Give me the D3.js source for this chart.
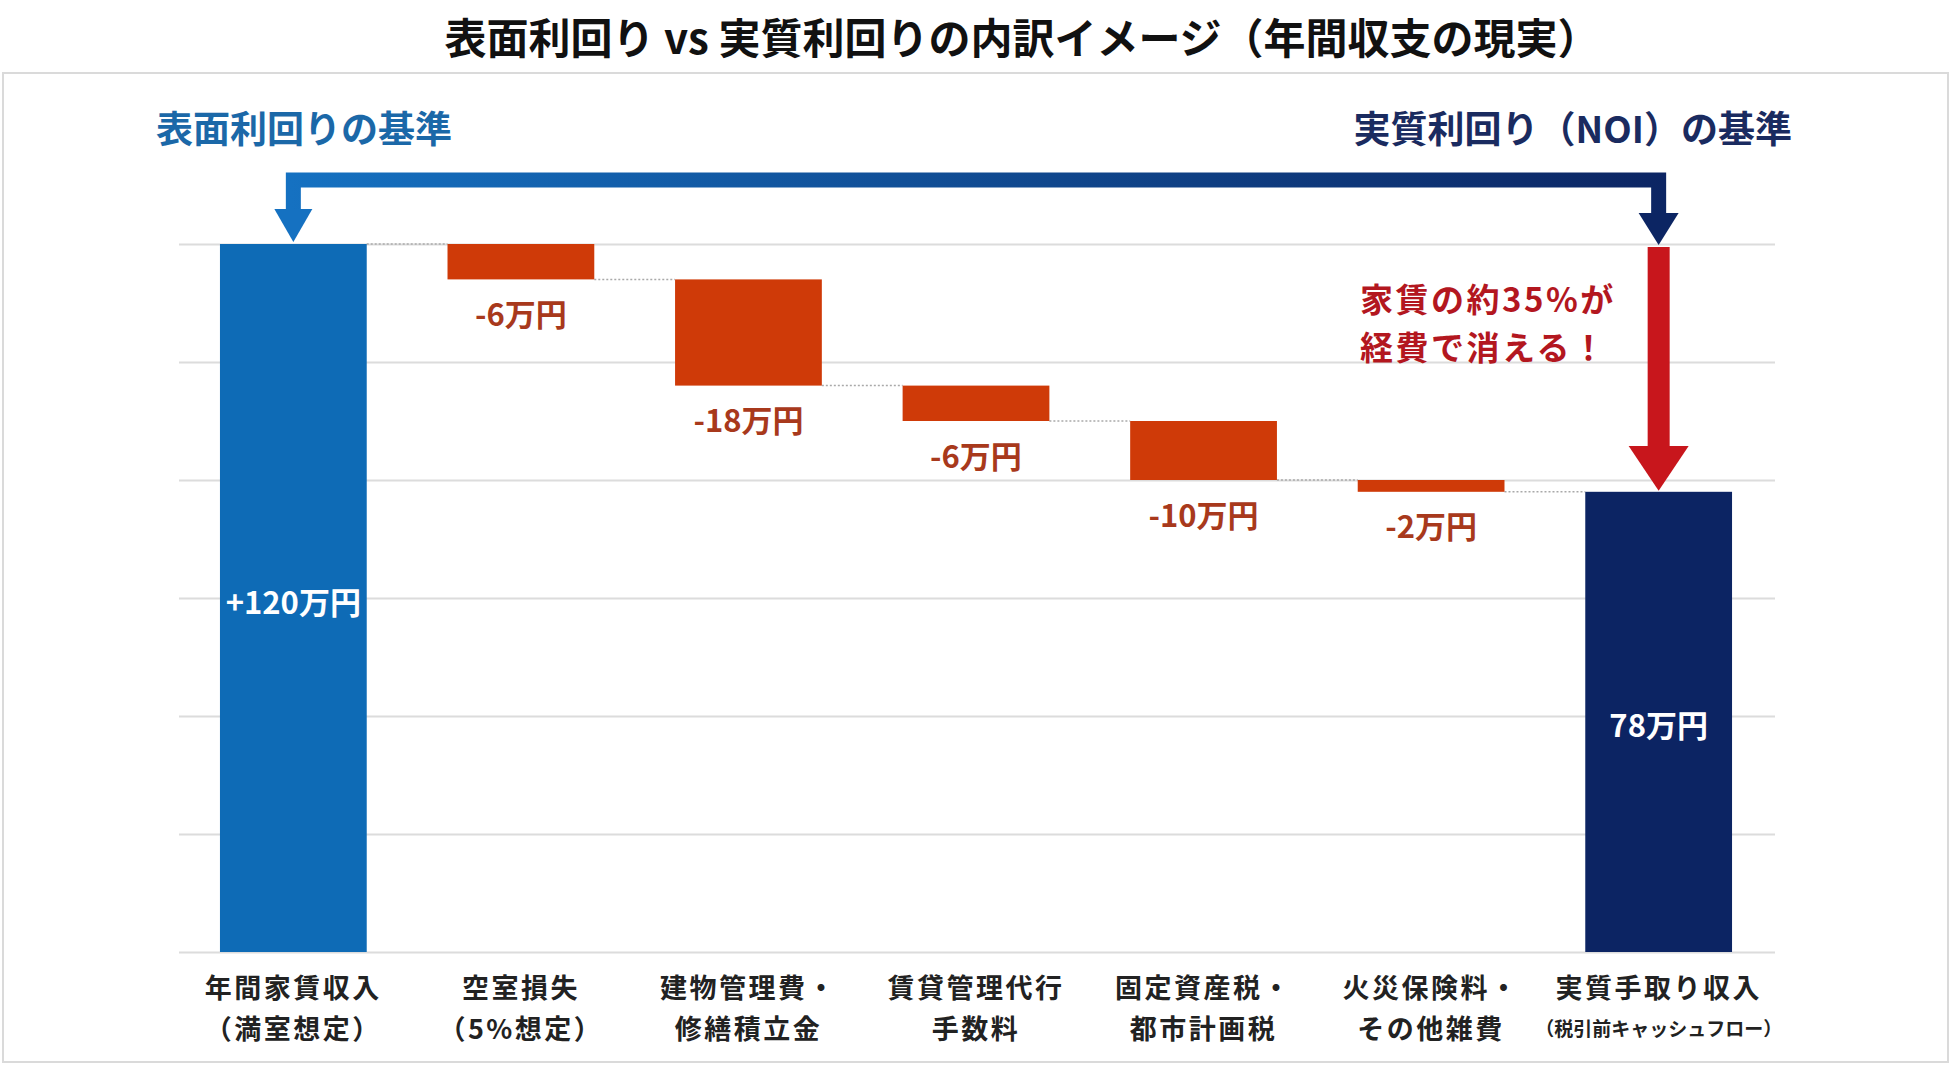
<!DOCTYPE html>
<html lang="ja">
<head>
<meta charset="utf-8">
<title>表面利回り vs 実質利回りの内訳イメージ</title>
<script src="https://d3js.org/d3.v7.min.js"></script>
<style>
    body { margin: 0; background: #fff; }
    svg { display: block; font-family: "Noto Sans CJK JP", "Noto Sans", sans-serif; }
    .cat-label { font-weight: 700; fill: #222; }
    .val-label { font-weight: 700; }
</style>
</head>
<body>
<div id="chart"></div>
<script>
// chart data
const categoriesLine1 = ["年間家賃収入", "空室損失", "建物管理費・", "賃貸管理代行", "固定資産税・", "火災保険料・", "実質手取り収入"];
const categoriesLine2 = ["（満室想定）", "（5%想定）", "修繕積立金", "手数料", "都市計画税", "その他雑費", "（税引前キャッシュフロー）"];
const values = [120, -6, -18, -6, -10, -2, 78];
const valueLabels = ["+120万円", "-6万円", "-18万円", "-6万円", "-10万円", "-2万円", "78万円"];
const barTypes = ["total", "loss", "loss", "loss", "loss", "loss", "result"];
const gridTicks = [0, 20, 40, 60, 80, 100, 120];

const title = "表面利回り vs 実質利回りの内訳イメージ（年間収支の現実）";
const leftHeader = "表面利回りの基準";
const rightHeader = "実質利回り（NOI）の基準";
const noteLines = ["家賃の約35%が", "経費で消える！"];

const width = 1958;
const height = 1070;

const colors = {
    total: "#0e6bb6",
    loss: "#cf3a08",
    result: "#0c2463",
    lossText: "#a8391c",
    arrowRed: "#c8161c",
    note: "#b3171f"
};

// build the waterfall steps (start / end of each bar)
let running = 0;
const steps = values.map((v, i) => {
    let start, end;
    if (barTypes[i] === "loss") {
        start = running;
        end = running + v;
        running = end;
    } else {
        start = 0;
        end = v;
        running = v;
    }
    return {i, v, start, end, type: barTypes[i], label: valueLabels[i]};
});

const svg = d3.select("#chart")
    .append("svg")
    .attr("width", width)
    .attr("height", height);

// gradient for the top bracket arrow
const defs = svg.append("defs");
const grad = defs.append("linearGradient")
    .attr("id", "bracketGrad")
    .attr("gradientUnits", "userSpaceOnUse")
    .attr("x1", 290).attr("x2", 1665)
    .attr("y1", 0).attr("y2", 0);
grad.append("stop").attr("offset", "0%").attr("stop-color", "#1571c1");
grad.append("stop").attr("offset", "100%").attr("stop-color", "#0c2563");

// title
svg.append("text")
    .attr("x", 1022)
    .attr("y", 35)
    .attr("text-anchor", "middle")
    .attr("dominant-baseline", "central")
    .style("font-size", "42px")
    .style("font-weight", 700)
    .style("fill", "#111")
    .text(title);

// panel
svg.append("rect")
    .attr("x", 3)
    .attr("y", 73)
    .attr("width", 1945)
    .attr("height", 989)
    .attr("fill", "#fff")
    .attr("stroke", "#dadada")
    .attr("stroke-width", 2);

// scales
const x = d3.scaleBand()
    .domain(d3.range(values.length))
    .range([179, 1773])
    .paddingInner(0.355)
    .paddingOuter(0.18);

const y = d3.scaleLinear()
    .domain([0, 120])
    .range([952, 244]);

// gridlines
const yAxis = d3.axisLeft(y)
    .tickValues(gridTicks)
    .tickSize(-(1775 - 179))
    .tickFormat("");

svg.append("g")
    .attr("class", "grid")
    .attr("transform", "translate(179,0)")
    .call(yAxis)
    .call(g => g.select(".domain").remove())
    .call(g => g.selectAll(".tick line").attr("stroke", "#dcdcdc").attr("stroke-width", 2));

// dotted connectors between bars
const connectors = steps.slice(0, -1);
svg.selectAll(".connector")
    .data(connectors)
    .join("line")
    .attr("class", "connector")
    .attr("x1", d => x(d.i) + x.bandwidth())
    .attr("x2", d => x(d.i + 1))
    .attr("y1", d => y(d.end))
    .attr("y2", d => y(d.end))
    .attr("stroke", "#a9a9a9")
    .attr("stroke-width", 1.5)
    .attr("stroke-dasharray", "2,2");

// bars
svg.selectAll(".bar")
    .data(steps)
    .join("rect")
    .attr("class", "bar")
    .attr("x", d => x(d.i))
    .attr("width", x.bandwidth())
    .attr("y", d => y(Math.max(d.start, d.end)))
    .attr("height", d => Math.abs(y(d.start) - y(d.end)))
    .attr("fill", d => colors[d.type]);

// value labels: inside the total bars, under the loss bars
svg.selectAll(".val-label")
    .data(steps)
    .join("text")
    .attr("class", "val-label")
    .attr("x", d => x(d.i) + x.bandwidth() / 2)
    .attr("y", d => d.type === "loss" ? y(d.end) + 33 : (y(d.end) + y(0)) / 2 + 2)
    .attr("text-anchor", "middle")
    .attr("dominant-baseline", "central")
    .style("font-size", "31px")
    .style("fill", d => d.type === "loss" ? colors.lossText : "#fff")
    .text(d => d.label);

// category labels (two lines, slightly spaced out)
svg.selectAll(".cat-label1")
    .data(categoriesLine1)
    .join("text")
    .attr("class", "cat-label cat-label1")
    .attr("x", (d, i) => x(i) + x.bandwidth() / 2)
    .attr("y", 986)
    .attr("text-anchor", "middle")
    .attr("dominant-baseline", "central")
    .style("font-size", "27px")
    .style("letter-spacing", "2.5px")
    .text(d => d);

svg.selectAll(".cat-label2")
    .data(categoriesLine2)
    .join("text")
    .attr("class", "cat-label cat-label2")
    .attr("x", (d, i) => x(i) + x.bandwidth() / 2)
    .attr("y", 1027)
    .attr("text-anchor", "middle")
    .attr("dominant-baseline", "central")
    .style("font-size", (d, i) => i === categoriesLine2.length - 1 ? "19px" : "27px")
    .style("letter-spacing", (d, i) => i === categoriesLine2.length - 1 ? "0px" : "2.5px")
    .text(d => d);

// headers above the bracket
svg.append("text")
    .attr("x", 156)
    .attr("y", 127)
    .attr("dominant-baseline", "central")
    .style("font-size", "37px")
    .style("font-weight", 700)
    .style("fill", "#1b68a8")
    .text(leftHeader);

svg.append("text")
    .attr("x", 1792)
    .attr("y", 127)
    .attr("text-anchor", "end")
    .attr("dominant-baseline", "central")
    .style("font-size", "37px")
    .style("font-weight", 700)
    .style("fill", "#1a2b60")
    .text(rightHeader);

// bracket arrow from the gross bar to the net bar
const first = steps[0];
const last = steps[steps.length - 1];
const xFirst = x(first.i) + x.bandwidth() / 2;
const xLast = x(last.i) + x.bandwidth() / 2;
const bracketY = 180;

svg.append("path")
    .attr("d", `M${xFirst},212 V${bracketY} H${xLast} V215`)
    .attr("fill", "none")
    .attr("stroke", "url(#bracketGrad)")
    .attr("stroke-width", 15)
    .attr("stroke-linejoin", "miter");

const arrowHead = (cx, top, tip, hw) => `M${cx - hw},${top} L${cx + hw},${top} L${cx},${tip} Z`;

svg.append("path")
    .attr("d", arrowHead(xFirst, 209, y(first.end) - 2, 19))
    .attr("fill", "#1571c1");

svg.append("path")
    .attr("d", arrowHead(xLast, 213, y(first.end) + 1, 20))
    .attr("fill", "#0c2563");

// red arrow down to the net bar
svg.append("rect")
    .attr("x", xLast - 11)
    .attr("y", y(first.end) + 3)
    .attr("width", 22)
    .attr("height", 447 - (y(first.end) + 3))
    .attr("fill", colors.arrowRed);

svg.append("path")
    .attr("d", arrowHead(xLast, 446, y(last.end) - 1, 30))
    .attr("fill", colors.arrowRed);

// note text
svg.selectAll(".note")
    .data(noteLines)
    .join("text")
    .attr("class", "note")
    .attr("x", 1360)
    .attr("y", (d, i) => 298 + i * 48)
    .attr("dominant-baseline", "central")
    .style("font-size", "33px")
    .style("font-weight", 700)
    .style("letter-spacing", "2.5px")
    .style("fill", colors.note)
    .text(d => d);
</script>
</body>
</html>
